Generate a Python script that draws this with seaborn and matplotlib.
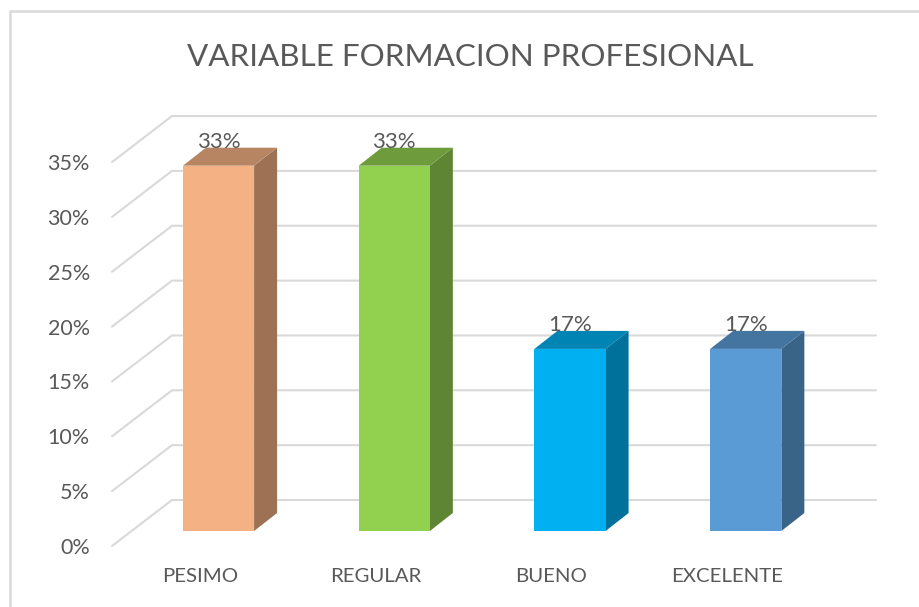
import matplotlib

matplotlib.use("Agg")

import matplotlib.pyplot as plt
import seaborn as sns
from matplotlib.colors import to_rgb
from matplotlib.lines import Line2D
from matplotlib.patches import Polygon
from matplotlib.transforms import Affine2D

categories = ["PESIMO", "REGULAR", "BUENO", "EXCELENTE"]
values = [33.3, 33.3, 16.6, 16.6]
colors = ["#F4B183", "#92D050", "#00B0F0", "#5B9BD5"]
ticks = [0, 5, 10, 15, 20, 25, 30, 35]
tick_labels = ["0%", "5%", "10%", "15%", "20%", "25%", "30%", "35%"]
title = "VARIABLE FORMACION PROFESIONAL"

W, H = 920, 607
GRID = "#D9D9D9"
TEXT = "#595959"
BAR_DX, BAR_DY = 23, 18  # bar depth, pixels
FLOOR_FRONT_DY = -15  # front edge of the floor against the bar plane
WALL_DX, WALL_DY = 60, 31  # back wall against the bar plane

sns.set_theme(style="white")
plt.rcParams["font.family"] = ["Lato", "DejaVu Sans"]

fig = plt.figure(figsize=(W / 100, H / 100), dpi=100)
# axes run from x=112 to x=876, zero sits at y=531 in picture pixels
ax = fig.add_axes([112 / W, (H - 531) / H, 764 / W, 440 / H])
ax.patch.set_alpha(0)
sns.barplot(
    x=categories,
    y=values,
    hue=categories,
    palette=colors,
    width=0.405,
    saturation=1,
    linewidth=0,
    legend=False,
    ax=ax,
)
ax.set_xlim(-0.606, 3.741)
ax.set_ylim(0, 440 / 10.97)
sns.despine(ax=ax, left=True, bottom=True)
ax.set_xlabel("")
ax.set_ylabel("")

x0, x1 = ax.get_xlim()
for tick in ticks:
    front = ax.transData.transform((x0, tick)) + (0, FLOOR_FRONT_DY)
    wall = ax.transData.transform((x0, tick)) + (WALL_DX, WALL_DY)
    end = ax.transData.transform((x1, tick)) + (0, WALL_DY)
    ax.add_line(
        Line2D(
            [front[0], wall[0], end[0]],
            [front[1], wall[1], end[1]],
            color=GRID,
            lw=1.5,
            transform=None,
            clip_on=False,
            zorder=1,
        )
    )

for container, color in zip(ax.containers, colors):
    rgb = to_rgb(color)
    side = tuple(c * 0.64 for c in rgb)
    top = tuple(c * 0.75 for c in rgb)
    for bar in container:
        bar.set_zorder(4)
        left, right = bar.get_x(), bar.get_x() + bar.get_width()
        height = bar.get_height()
        p1 = ax.transData.transform((right, 0))
        p2 = ax.transData.transform((right, height))
        p3 = ax.transData.transform((left, height))
        depth = (BAR_DX, BAR_DY)
        ax.add_patch(
            Polygon([p1, p2, p2 + depth, p1 + depth], facecolor=side,
                    edgecolor="none", transform=None, clip_on=False, zorder=3)
        )
        ax.add_patch(
            Polygon([p3, p2, p2 + depth, p3 + depth], facecolor=top,
                    edgecolor="none", transform=None, clip_on=False, zorder=3)
        )
    ax.bar_label(
        container,
        labels=[f"{round(v + 0.04):.0f}%" for v in container.datavalues],
        padding=10,
        fontsize=16,
        color=TEXT,
        zorder=5,
    )

ax.set_yticks(ticks, tick_labels)
ax.tick_params(axis="y", length=0, labelsize=15.5, labelcolor=TEXT, pad=16)
ax.tick_params(axis="x", length=0, labelsize=14.7, labelcolor=TEXT, pad=27)
for label in ax.get_yticklabels():
    label.set_transform(label.get_transform() + Affine2D().translate(0, FLOOR_FRONT_DY))
for label in ax.get_xticklabels():
    label.set_transform(label.get_transform() + Affine2D().translate(-18.5, 0))

fig.text(470 / W, (H - 57) / H, title, ha="center", va="center", fontsize=22.6, color=TEXT)

# outer chart frame, only the left and top edges are in the crop
fig.add_artist(Line2D([10.5 / W, 10.5 / W, 1], [0, (H - 10.5) / H, (H - 10.5) / H],
                      color=GRID, lw=1.8, transform=fig.transFigure))

fig.savefig("out.png", dpi=100)
